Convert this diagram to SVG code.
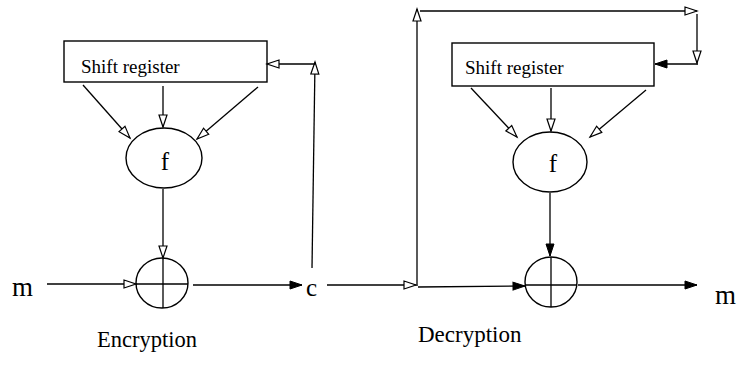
<svg xmlns="http://www.w3.org/2000/svg" width="738" height="372" viewBox="0 0 738 372">
  <style>
    .shape { fill: #fff; stroke: #000; stroke-width: 1.4; }
    .line { fill: none; stroke: #000; stroke-width: 1.3; }
    .open { marker-end: url(#openHead); }
    .solid { marker-end: url(#solidHead); }
    text { font-family: "Liberation Serif", "Times New Roman", serif; fill: #000; }
    .reg { font-size: 19px; }
    .fn { font-size: 25px; text-anchor: middle; }
    .sym { font-size: 27px; }
    .cap { font-size: 22.5px; }
  </style>
  <defs>
    <marker id="openHead" markerUnits="userSpaceOnUse" markerWidth="14" markerHeight="10" refX="12" refY="4" orient="auto" overflow="visible">
      <path d="M0,0 L12,4 L0,8 Z" fill="#fff" stroke="#000" stroke-width="1.2"/>
    </marker>
    <marker id="solidHead" markerUnits="userSpaceOnUse" markerWidth="14" markerHeight="10" refX="12" refY="4" orient="auto" overflow="visible">
      <path d="M0,0 L12,4 L0,8 Z" fill="#000" stroke="#000" stroke-width="1"/>
    </marker>
  </defs>

  <!-- Encryption side -->
  <g id="enc-register">
    <rect class="shape" x="64" y="41" width="203" height="41"/>
    <text class="reg" x="81" y="73">Shift register</text>
  </g>
  <g id="enc-f">
    <ellipse class="shape" cx="164" cy="158" rx="38" ry="30"/>
    <text class="fn" x="165" y="170">f</text>
  </g>
  <g id="enc-xor">
    <ellipse class="shape" cx="162" cy="283" rx="26" ry="25"/>
    <line class="line" x1="136" y1="284" x2="188" y2="284"/>
    <line class="line" x1="163" y1="258" x2="163" y2="308"/>
  </g>
  <g id="enc-m">
    <text class="sym" x="12" y="296">m</text>
  </g>
  <g id="cipher-c">
    <text class="sym" x="306" y="296" style="font-size:25px">c</text>
  </g>

  <!-- Decryption side -->
  <g id="dec-register">
    <rect class="shape" x="452" y="43" width="202" height="43"/>
    <text class="reg" x="465" y="74">Shift register</text>
  </g>
  <g id="dec-f">
    <ellipse class="shape" cx="550" cy="162" rx="37" ry="30"/>
    <text class="fn" x="553" y="172">f</text>
  </g>
  <g id="dec-xor">
    <ellipse class="shape" cx="551" cy="282" rx="26" ry="25"/>
    <line class="line" x1="525" y1="285" x2="577" y2="285"/>
    <line class="line" x1="551" y1="257" x2="551" y2="307"/>
  </g>
  <g id="dec-m">
    <text class="sym" x="715" y="304">m</text>
  </g>

  <g id="captions">
    <text class="cap" x="97" y="347">Encryption</text>
    <text class="cap" x="418" y="342" style="font-size:23px">Decryption</text>
  </g>

  <g id="connectors">
    <!-- encryption -->
    <line class="line open" x1="83" y1="85" x2="130" y2="138"/>
    <line class="line open" x1="163" y1="86" x2="163" y2="127"/>
    <line class="line open" x1="258" y1="87" x2="197" y2="139"/>
    <line class="line open" x1="163" y1="189" x2="163" y2="258"/>
    <line class="line open" x1="47" y1="284" x2="136" y2="284"/>
    <line class="line solid" x1="193" y1="285" x2="302" y2="285"/>
    <line class="line open" x1="312" y1="268" x2="315" y2="62"/>
    <line class="line open" x1="315" y1="64" x2="267" y2="64"/>
    <!-- ciphertext to decryption -->
    <line class="line open" x1="327" y1="285" x2="416" y2="285"/>
    <line class="line open" x1="417" y1="286" x2="417" y2="9"/>
    <line class="line open" x1="420" y1="11" x2="697" y2="11"/>
    <line class="line open" x1="697" y1="14" x2="697" y2="63"/>
    <line class="line solid" x1="698" y1="64" x2="655" y2="64"/>
    <line class="line open" x1="471" y1="88" x2="517" y2="137"/>
    <line class="line open" x1="551" y1="88" x2="551" y2="131"/>
    <line class="line open" x1="646" y1="90" x2="590" y2="137"/>
    <line class="line solid" x1="550" y1="193" x2="550" y2="256"/>
    <line class="line solid" x1="418" y1="287" x2="525" y2="286"/>
    <line class="line solid" x1="578" y1="285" x2="697" y2="285"/>
  </g>
</svg>
